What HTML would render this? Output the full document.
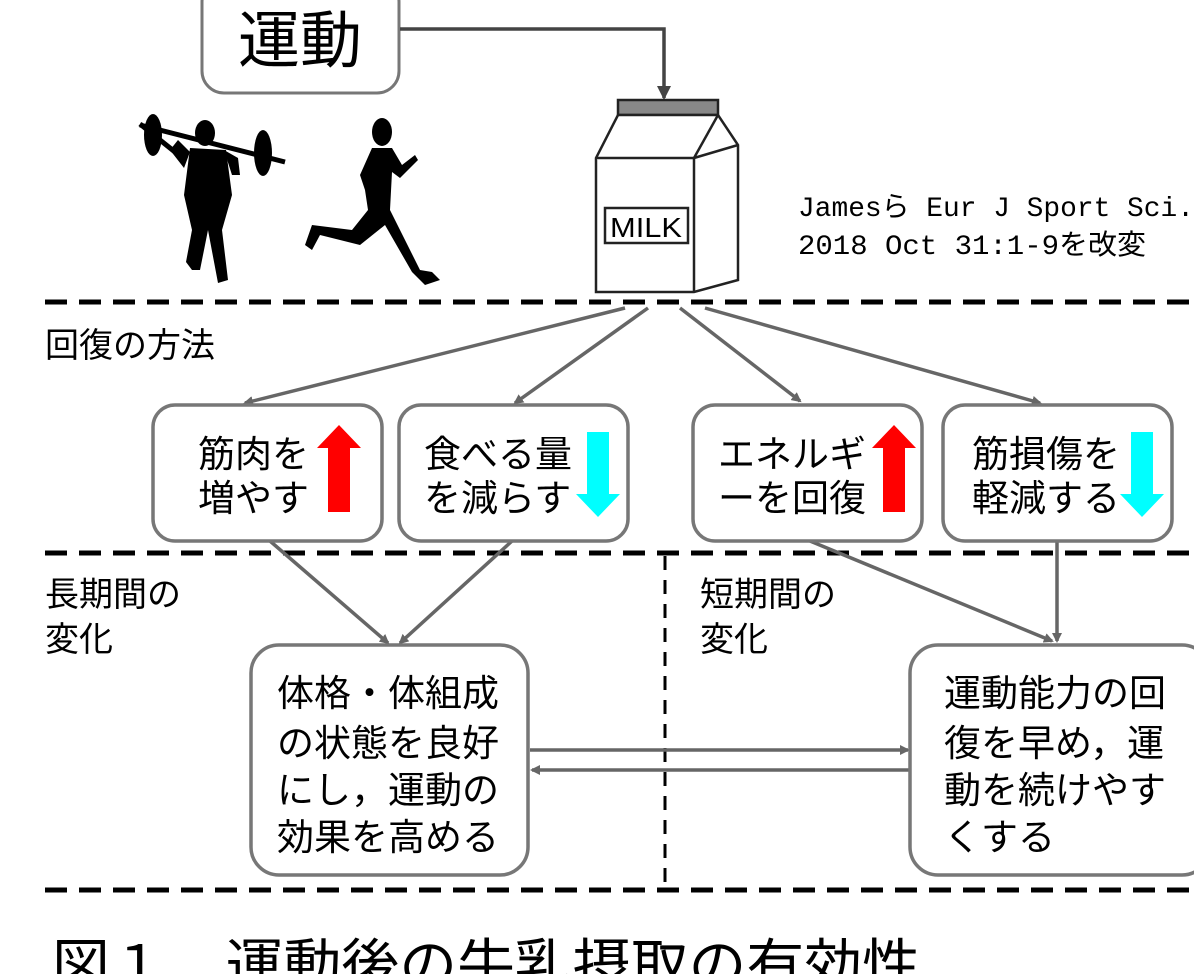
<!DOCTYPE html>
<html><head><meta charset="utf-8"><style>
html,body{margin:0;padding:0;background:#fff;}
svg{display:block;}
text{font-family:"Liberation Sans","Noto Sans CJK JP",sans-serif;fill:#000;}
.m{font-family:"Liberation Mono","Noto Sans CJK JP",monospace;}
</style></head><body>
<svg width="1194" height="974" viewBox="0 0 1194 974" xmlns="http://www.w3.org/2000/svg">
<defs>
<marker id="ah" markerWidth="10" markerHeight="10" refX="8" refY="5" orient="auto" markerUnits="userSpaceOnUse"><path d="M0,0 L10,5 L0,10 z" fill="#666"/></marker>
<marker id="ah2" markerWidth="14" markerHeight="14" refX="12" refY="7" orient="auto" markerUnits="userSpaceOnUse"><path d="M0,0 L14,7 L0,14 z" fill="#444"/></marker>
</defs>
<rect x="202" y="-20" width="197" height="113" rx="22" fill="#fff" stroke="#777" stroke-width="3"/>
<text x="300" y="62" font-size="62" text-anchor="middle">運動</text>
<polyline points="400,29 664,29 664,98" fill="none" stroke="#444" stroke-width="3.5" marker-end="url(#ah2)"/>
<!-- weightlifter -->
<g fill="#000">
<line x1="140" y1="124" x2="185" y2="160" stroke="#000" stroke-width="5"/>
<ellipse cx="105" cy="135" rx="9" ry="21" transform="translate(48,0)"/>
<ellipse cx="263" cy="153" rx="9" ry="23"/>
<line x1="140" y1="125" x2="285" y2="162" stroke="#000" stroke-width="5"/>
<ellipse cx="205" cy="133" rx="10" ry="13"/>
<path d="M190,148 L226,150 L232,195 L222,230 L228,280 L218,283 L208,230 L200,270 L192,270 L186,262 L192,230 L184,195 z"/>
<path d="M190,152 L178,140 L170,150 L184,168 z M224,150 L238,158 L240,175 L232,175 z"/>
</g>
<!-- runner -->
<g fill="#000">
<ellipse cx="382" cy="132" rx="10" ry="14"/>
<path d="M372,148 L392,148 L402,165 L415,155 L418,160 L400,178 L392,172 L390,210 L420,270 L432,272 L440,280 L425,285 L412,272 L385,225 L360,245 L320,235 L312,250 L305,245 L312,225 L352,230 L368,210 L365,190 L360,175 z"/>
</g>
<g stroke="#222" stroke-width="2.5" fill="#fff">
<rect x="618" y="100" width="100" height="15" fill="#888"/>
<path d="M618,115 L718,115 L738,145 L738,280 L694,292 L596,292 L596,158 z"/>
<path d="M596,158 L694,158 L694,292"/>
<path d="M694,158 L738,145"/>
<path d="M694,158 L718,115"/>
<rect x="605" y="208" width="83" height="35" stroke-width="2.5"/>
</g>
<text x="646" y="237" font-size="28" text-anchor="middle" textLength="72" lengthAdjust="spacingAndGlyphs">MILK</text>
<text class="m" x="798" y="216" font-size="28" textLength="396" lengthAdjust="spacingAndGlyphs">Jamesら Eur J Sport Sci.</text>
<text class="m" x="798" y="254" font-size="28" textLength="348" lengthAdjust="spacingAndGlyphs">2018 Oct 31:1-9を改変</text>
<g stroke="#000" stroke-width="5" stroke-dasharray="22,12">
<line x1="45" y1="302" x2="1194" y2="302"/>
<line x1="45" y1="553" x2="1194" y2="553"/>
<line x1="45" y1="890" x2="1194" y2="890"/>
</g>
<line x1="665" y1="556" x2="665" y2="888" stroke="#000" stroke-width="3" stroke-dasharray="14,10"/>
<text x="45" y="357" font-size="34">回復の方法</text>
<text x="45" y="606" font-size="34">長期間の</text>
<text x="45" y="651" font-size="34">変化</text>
<text x="700" y="606" font-size="34">短期間の</text>
<text x="700" y="651" font-size="34">変化</text>
<g stroke="#666" stroke-width="3.5" fill="none" marker-end="url(#ah)">
<line x1="625" y1="308" x2="245" y2="403"/>
<line x1="648" y1="308" x2="515" y2="403"/>
<line x1="680" y1="308" x2="800" y2="401"/>
<line x1="705" y1="308" x2="1040" y2="403"/>
<line x1="270" y1="541" x2="388" y2="643"/>
<line x1="512" y1="541" x2="400" y2="643"/>
<line x1="810" y1="541" x2="1052" y2="641"/>
<line x1="1057" y1="541" x2="1057" y2="641"/>
<line x1="530" y1="750" x2="908" y2="750"/>
<line x1="910" y1="770" x2="532" y2="770"/>
</g>
<g fill="#fff" stroke="#777" stroke-width="3.5">
<rect x="153" y="405" width="229" height="136" rx="22"/>
<rect x="399" y="405" width="229" height="136" rx="22"/>
<rect x="693" y="405" width="229" height="136" rx="22"/>
<rect x="943" y="405" width="229" height="136" rx="22"/>
<rect x="251" y="645" width="277" height="230" rx="28"/>
<rect x="910" y="645" width="300" height="230" rx="28"/>
</g>
<g font-size="37">
<text x="198" y="467">筋肉を</text><text x="198" y="511">増やす</text>
<text x="424" y="467">食べる量</text><text x="424" y="511">を減らす</text>
<text x="718" y="467">エネルギ</text><text x="718" y="511">ーを回復</text>
<text x="972" y="467">筋損傷を</text><text x="972" y="511">軽減する</text>
</g>
<g font-size="37">
<text x="277" y="706">体格・体組成</text>
<text x="277" y="756">の状態を良好</text>
<text x="277" y="803">にし，運動の</text>
<text x="277" y="850">効果を高める</text>
<text x="944" y="706">運動能力の回</text>
<text x="944" y="756">復を早め，運</text>
<text x="944" y="803">動を続けやす</text>
<text x="944" y="850">くする</text>
</g>
<path d="M317,448 L339,425 L361,448 L350,448 L350,512 L328,512 L328,448 z" fill="#f00"/>
<path d="M587,432 L609,432 L609,494 L620,494 L598,517 L576,494 L587,494 z" fill="#0ff"/>
<path d="M872,448 L894,425 L916,448 L905,448 L905,512 L883,512 L883,448 z" fill="#f00"/>
<path d="M1131,432 L1153,432 L1153,494 L1164,494 L1142,517 L1120,494 L1131,494 z" fill="#0ff"/>
<text x="52" y="985" font-size="56" textLength="868" lengthAdjust="spacingAndGlyphs">図１　運動後の牛乳摂取の有効性</text>
</svg>
</body></html>
